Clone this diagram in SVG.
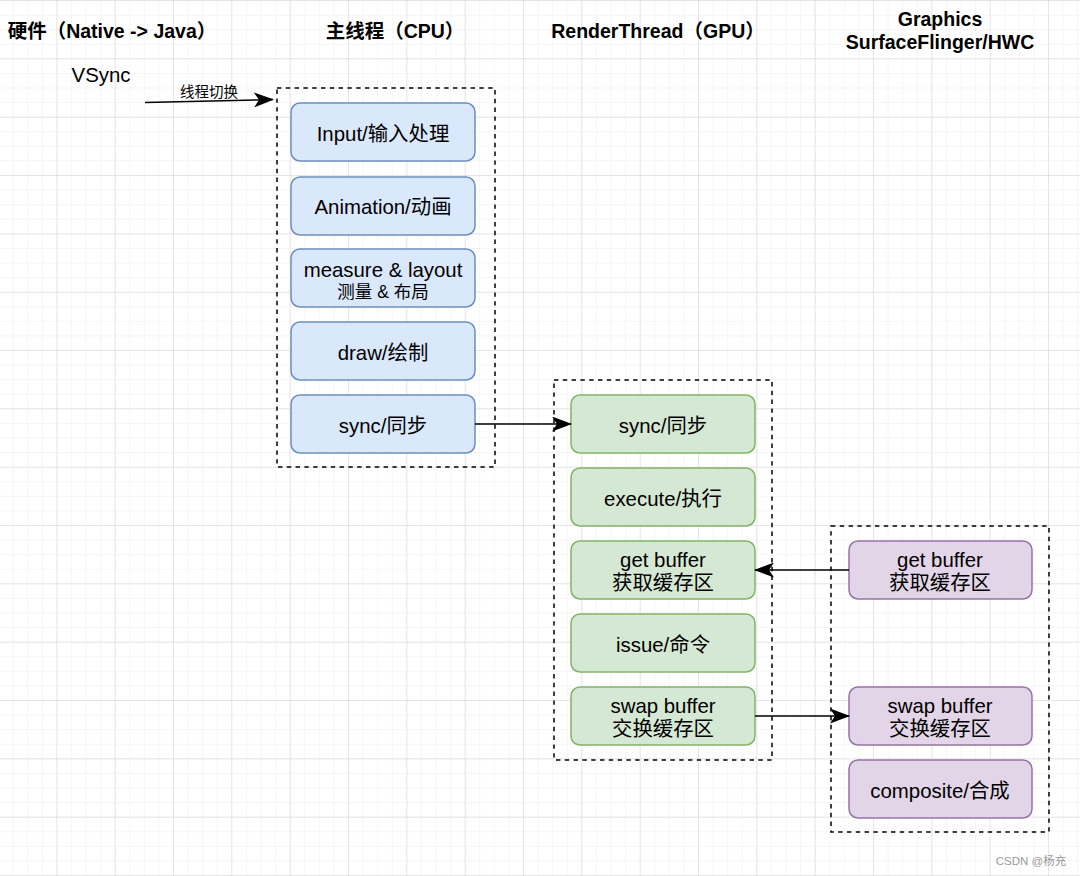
<svg xmlns="http://www.w3.org/2000/svg" width="1080" height="876" viewBox="0 0 1080 876">
<defs>
<pattern id="minor" width="14.583" height="14.583" patternUnits="userSpaceOnUse" x="-1" y="1">
<path d="M14.583 0V14.583M0 14.583H14.583" fill="none" stroke="#ececec" stroke-width="1"/>
</pattern>
<pattern id="major" width="58.333" height="58.333" patternUnits="userSpaceOnUse" x="-1" y="1">
<path d="M58.333 0V58.333M0 58.333H58.333" fill="none" stroke="#d6d6d6" stroke-width="1"/>
</pattern>
<marker id="arr" viewBox="0 0 20 15" refX="19" refY="7.5" markerWidth="20" markerHeight="15" markerUnits="userSpaceOnUse" orient="auto">
<path d="M0 0L20 7.5L0 15L5 7.5Z" fill="#000"/>
</marker>
</defs>
<style>
.t{font-family:"Liberation Sans","Noto Sans CJK SC",sans-serif;fill:#000;text-anchor:middle}
.n{font-size:20.4px}
.s{font-size:17.5px}
.h{font-size:19.5px;font-weight:bold}
.grp{fill:none;stroke:#000;stroke-width:1.5;stroke-dasharray:4.4 4.4}
.b{fill:#dae8fc;stroke:#6c8ebf;stroke-width:1.5}
.g{fill:#d5e8d4;stroke:#82b366;stroke-width:1.5}
.p{fill:#e1d5e7;stroke:#9673a6;stroke-width:1.5}
.c{fill:none;stroke:#000;stroke-width:1.5}
</style>
<rect width="1080" height="876" fill="#fff"/>
<rect width="1080" height="876" fill="url(#minor)"/>
<rect width="1080" height="876" fill="url(#major)"/>

<g id="headers">
<text class="t h" x="112" y="38">硬件（Native -&gt; Java）</text>
<text class="t h" x="395" y="38">主线程（CPU）</text>
<text class="t h" x="658" y="38">RenderThread（GPU）</text>
<text class="t h" x="940" y="26">Graphics</text>
<text class="t h" x="940" y="49">SurfaceFlinger/HWC</text>
</g>
<g id="vsync"><text class="t n" x="101" y="82">VSync</text></g>

<g id="main-group"><rect class="grp" x="277" y="88" width="218" height="379"/></g>
<g id="render-group"><rect class="grp" x="554" y="380" width="218" height="380"/></g>
<g id="graphics-group"><rect class="grp" x="831" y="526" width="218" height="306"/></g>

<g id="input"><rect class="b" x="291" y="103" width="184" height="58" rx="9"/><text class="t n" x="383" y="141">Input/输入处理</text></g>
<g id="animation"><rect class="b" x="291" y="177" width="184" height="58" rx="9"/><text class="t n" x="383" y="214">Animation/动画</text></g>
<g id="measure"><rect class="b" x="291" y="249" width="184" height="58" rx="9"/><text class="t n" x="383" y="277">measure &amp; layout</text><text class="t s" x="383" y="298">测量 &amp; 布局</text></g>
<g id="draw"><rect class="b" x="291" y="322" width="184" height="58" rx="9"/><text class="t n" x="383" y="360">draw/绘制</text></g>
<g id="sync-main"><rect class="b" x="291" y="395" width="184" height="58" rx="9"/><text class="t n" x="383" y="433">sync/同步</text></g>

<g id="sync-rt"><rect class="g" x="571" y="395" width="184" height="58" rx="9"/><text class="t n" x="663" y="433">sync/同步</text></g>
<g id="execute"><rect class="g" x="571" y="468" width="184" height="58" rx="9"/><text class="t n" x="663" y="506">execute/执行</text></g>
<g id="getbuf-rt"><rect class="g" x="571" y="541" width="184" height="58" rx="9"/><text class="t n" x="663" y="567">get buffer</text><text class="t n" x="663" y="590">获取缓存区</text></g>
<g id="issue"><rect class="g" x="571" y="614" width="184" height="58" rx="9"/><text class="t n" x="663" y="652">issue/命令</text></g>
<g id="swap-rt"><rect class="g" x="571" y="687" width="184" height="58" rx="9"/><text class="t n" x="663" y="713">swap buffer</text><text class="t n" x="663" y="736">交换缓存区</text></g>

<g id="getbuf-sf"><rect class="p" x="849" y="541" width="183" height="58" rx="9"/><text class="t n" x="940" y="567">get buffer</text><text class="t n" x="940" y="590">获取缓存区</text></g>
<g id="swap-sf"><rect class="p" x="849" y="687" width="183" height="58" rx="9"/><text class="t n" x="940" y="713">swap buffer</text><text class="t n" x="940" y="736">交换缓存区</text></g>
<g id="composite"><rect class="p" x="849" y="760" width="183" height="58" rx="9"/><text class="t n" x="940" y="798">composite/合成</text></g>

<g id="connectors">
<path class="c" d="M145 102.5L273 99.5" marker-end="url(#arr)"/>
<text class="t" style="font-size:14.5px" x="209" y="97">线程切换</text>
<path class="c" d="M475 424H571" marker-end="url(#arr)"/>
<path class="c" d="M849 570H755" marker-end="url(#arr)"/>
<path class="c" d="M755 716H849" marker-end="url(#arr)"/>
</g>
<text class="t" style="font-size:11.5px;fill:#9a9a9a" x="1031" y="865">CSDN @杨充</text>
</svg>
